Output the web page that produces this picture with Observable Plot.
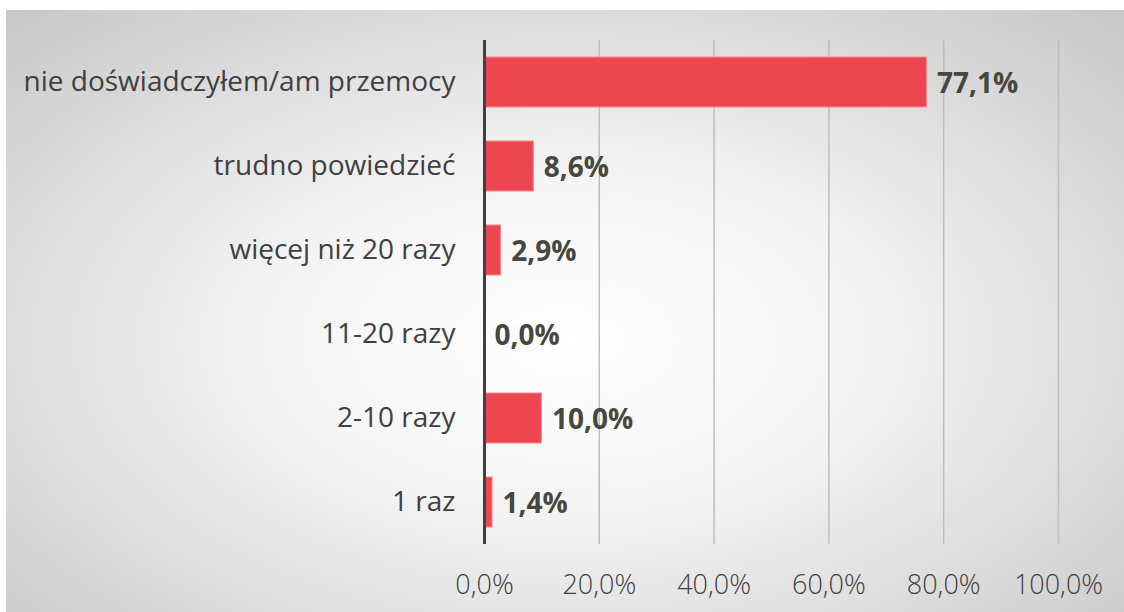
<!DOCTYPE html>
<html><head><meta charset="utf-8">
<script src="https://cdn.jsdelivr.net/npm/d3@7"></script>
<script src="https://cdn.jsdelivr.net/npm/@observablehq/plot@0.6"></script>
<style>
html,body{margin:0;padding:0;background:#fff;}
#wrap{position:relative;width:1124px;height:612px;overflow:hidden;}
#bg{position:absolute;left:6px;top:10px;right:0;bottom:0;
 background:radial-gradient(ellipse 75% 80% at 50% 55%, #ffffff 0%, #f4f4f4 35%, #dadada 70%, #c4c4c4 100%);}
#chart{position:absolute;left:0;top:0;}
#chart svg{background:transparent !important;}
</style>
</head><body>
<div id="wrap"><div id="bg"></div><div id="chart"></div></div>
<script>
const categories = ["nie doświadczyłem/am przemocy","trudno powiedzieć","więcej niż 20 razy","11-20 razy","2-10 razy","1 raz"];
const values = [0.771, 0.086, 0.029, 0.0, 0.100, 0.014];
const xTicks = [0, 0.2, 0.4, 0.6, 0.8, 1.0];

const data = categories.map((c, i) => ({category: c, value: values[i]}));
const fmt = d => (d * 100).toFixed(1).replace(".", ",") + "%";

const chart = Plot.plot({
  width: 1124,
  height: 612,
  marginLeft: 484,
  marginRight: 66,
  marginTop: 40,
  marginBottom: 68,
  style: {background: "transparent", fontFamily: "'Open Sans', 'Noto Sans', sans-serif", color: "#404040"},
  x: {domain: [0, 1], label: null},
  y: {domain: categories, paddingInner: 0.4, paddingOuter: 0.2, label: null},
  marks: [
    Plot.ruleX(xTicks.slice(1), {stroke: "#bdbdbd", strokeWidth: 1.5}),
    Plot.barX(data, {x: "value", y: "category", fill: "#ec4651", stroke: "#f58a90", strokeWidth: 1}),
    Plot.ruleX([0], {stroke: "#404040", strokeWidth: 3}),
    Plot.text(data, {x: "value", y: "category", text: d => fmt(d.value), dx: 10, dy: 2, textAnchor: "start",
      fontWeight: "bold", fontSize: 28, fill: "#47473d"}),
    Plot.axisX({ticks: xTicks, tickFormat: fmt, tickSize: 0, tickPadding: 30, fontSize: 27, fontWeight: 300, fill: "#404040", label: null}),
    Plot.axisY({tickSize: 0, tickPadding: 29, fontSize: 28, fill: "#404040", label: null})
  ]
});
document.getElementById("chart").appendChild(chart);
</script>
</body></html>
